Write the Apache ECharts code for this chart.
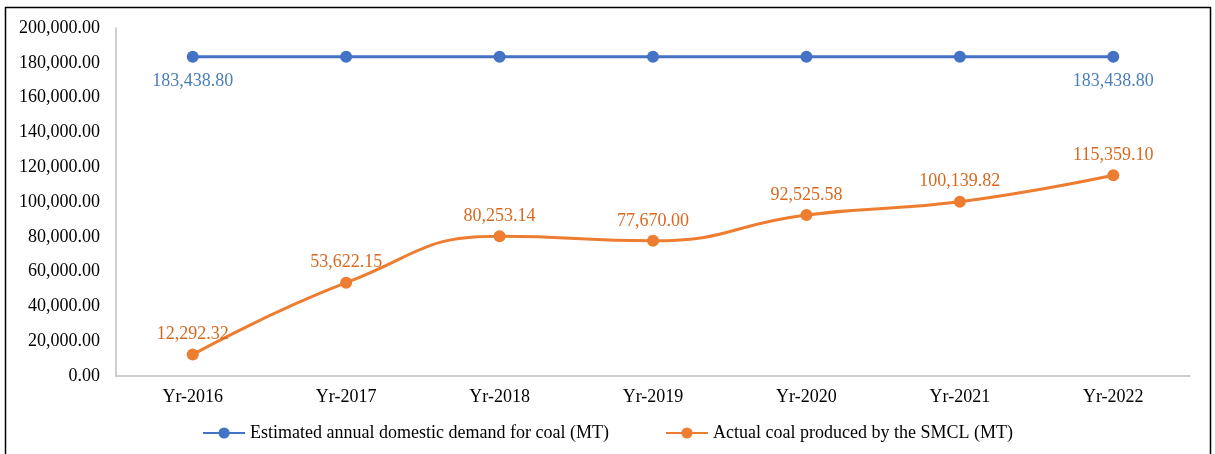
<!DOCTYPE html>
<html>
<head>
<meta charset="utf-8">
<style>
  html, body { margin: 0; padding: 0; background: #fff; }
  #chart { width: 1215px; height: 454px; }
</style>
<script src="https://cdn.jsdelivr.net/npm/echarts@6/dist/echarts.min.js"></script>
</head>
<body>
<div id="chart"></div>
<script>
const years = ['Yr-2016', 'Yr-2017', 'Yr-2018', 'Yr-2019', 'Yr-2020', 'Yr-2021', 'Yr-2022']
const demand = [183438.80, 183438.80, 183438.80, 183438.80, 183438.80, 183438.80, 183438.80]
const produced = [12292.32, 53622.15, 80253.14, 77670.00, 92525.58, 100139.82, 115359.10]
const demandName = 'Estimated annual domestic demand for coal (MT)'
const producedName = 'Actual coal produced by the SMCL (MT)'

const font = '"Liberation Serif", "Times New Roman", serif'
const fontSize = 18
const fmt = v => v.toLocaleString('en-US', { minimumFractionDigits: 2, maximumFractionDigits: 2 })

const myChart = echarts.init(document.getElementById('chart'))
myChart.setOption({
  animation: false,
  textStyle: { fontFamily: font },
  graphic: [{
    type: 'rect',
    shape: { x: 5.5, y: 7.5, width: 1205, height: 460 },
    style: { fill: 'none', stroke: '#000', lineWidth: 1.5 },
    silent: true
  }],
  grid: { left: 116, right: 25, top: 28, bottom: 78 },
  legend: {
    bottom: 7,
    left: 'center',
    itemWidth: 42,
    itemHeight: 14,
    itemGap: 56,
    textStyle: { fontFamily: font, fontSize, color: '#000' },
    data: [demandName, producedName]
  },
  xAxis: {
    type: 'category',
    data: years,
    boundaryGap: true,
    axisLine: { lineStyle: { color: '#bfbfbf', width: 1.5 } },
    axisTick: { show: false },
    axisLabel: { fontFamily: font, fontSize, color: '#000', margin: 12 }
  },
  yAxis: {
    type: 'value',
    min: 0,
    max: 200000,
    interval: 20000,
    splitLine: { show: false },
    axisLine: { show: true, lineStyle: { color: '#bfbfbf', width: 1.5 } },
    axisTick: { show: false },
    axisLabel: { fontFamily: font, fontSize, color: '#000', margin: 16, formatter: fmt }
  },
  series: [{
    name: demandName,
    type: 'line',
    data: demand,
    symbol: 'circle',
    symbolSize: 12,
    lineStyle: { color: '#4472C4', width: 3 },
    itemStyle: { color: '#4472C4' },
    label: {
      show: true,
      position: 'bottom',
      distance: 9,
      fontFamily: font,
      fontSize,
      color: '#4a7ebb',
      formatter: p => (p.dataIndex === 0 || p.dataIndex === years.length - 1) ? fmt(p.value) : ''
    }
  }, {
    name: producedName,
    type: 'line',
    data: produced,
    smooth: 0.5,
    symbol: 'circle',
    symbolSize: 12,
    lineStyle: { color: '#ED7D31', width: 3 },
    itemStyle: { color: '#ED7D31' },
    label: {
      show: true,
      position: 'top',
      distance: 5,
      fontFamily: font,
      fontSize,
      color: '#d9681f',
      formatter: p => fmt(p.value)
    }
  }]
})
</script>
</body>
</html>
